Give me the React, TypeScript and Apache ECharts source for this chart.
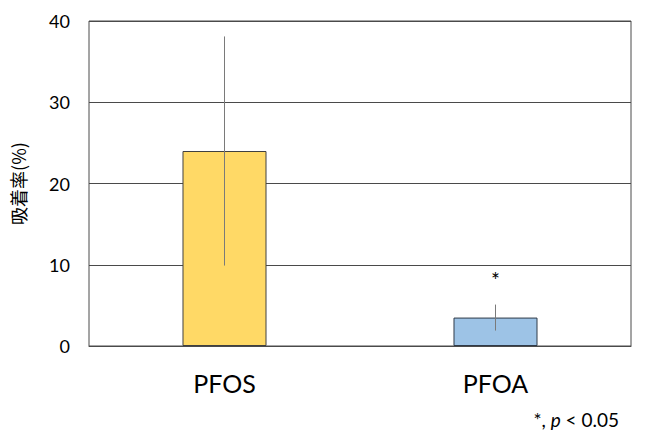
import React, { useEffect, useRef } from "react";
import * as echarts from "echarts";

const categories = ["PFOS", "PFOA"];
const means = [24.0, 3.5];
const errors = [14.1, 1.6];
const marks = ["", "*"];
const barColors = ["#FFD966", "#9DC3E6"];
const barBorders = ["#404040", "#2F3A48"];
const yTicks = [0, 10, 20, 30, 40];

export default function App() {
  const ref = useRef<HTMLDivElement>(null);
  useEffect(() => {
    if (!ref.current) return;
    const chart = echarts.init(ref.current, undefined, { renderer: "svg" });
    const errData = means.map((m, i) => [i, m - errors[i], m + errors[i]]);
    const markData = means.map((m, i) => [i, m + errors[i], marks[i]]);
    chart.setOption({
      animation: false,
      backgroundColor: "#ffffff",
      grid: {
        left: 89,
        right: 19,
        top: 21,
        bottom: 101,
        show: true,
        borderColor: "#4a4a4a",
        borderWidth: 1,
      },
      xAxis: {
        type: "category",
        data: categories,
        axisLine: { show: true, lineStyle: { color: "#4a4a4a", width: 1 } },
        axisTick: { show: false },
        axisLabel: {
          fontFamily: "Lato",
          fontSize: 25,
          color: "#000000",
          margin: 24,
        },
      },
      yAxis: {
        type: "value",
        min: yTicks[0],
        max: yTicks[yTicks.length - 1],
        interval: 10,
        name: "吸着率(%)",
        nameLocation: "middle",
        nameRotate: 90,
        nameGap: 62,
        nameTextStyle: {
          fontFamily: "Noto Sans CJK JP",
          fontSize: 18,
          color: "#000000",
        },
        axisLine: { show: false },
        axisTick: { show: false },
        axisLabel: {
          fontFamily: "Lato",
          fontSize: 18,
          color: "#000000",
          margin: 19,
        },
        splitLine: { show: true, lineStyle: { color: "#4a4a4a", width: 1 } },
      },
      series: [
        {
          type: "bar",
          barWidth: "31%",
          data: means.map((v, i) => ({
            value: v,
            itemStyle: {
              color: barColors[i],
              borderColor: barBorders[i],
              borderWidth: 1,
            },
          })),
          z: 2,
        },
        {
          type: "custom",
          data: errData,
          z: 3,
          renderItem: (params: any, api: any) => {
            const x = api.value(0);
            const lo = api.coord([x, api.value(1)]);
            const hi = api.coord([x, api.value(2)]);
            return {
              type: "line",
              shape: { x1: lo[0], y1: lo[1], x2: hi[0], y2: hi[1] },
              style: { stroke: "#7a7a7a", lineWidth: 1 },
            };
          },
        },
        {
          type: "custom",
          data: markData,
          z: 3,
          renderItem: (params: any, api: any) => {
            const i = params.dataIndex;
            const x = api.value(0);
            const hi = api.coord([x, api.value(1)]);
            return {
              type: "text",
              x: hi[0],
              y: hi[1] - 25,
              style: {
                text: marks[i],
                fontFamily: "Lato",
                fontSize: 21,
                fill: "#000000",
                align: "center",
                verticalAlign: "middle",
              },
            };
          },
        },
      ],
      graphic: [
        {
          type: "text",
          right: 31,
          top: 410,
          style: {
            text: "{n|*, }{i|p}{n| < 0.05}",
            rich: {
              n: { fontFamily: "Lato", fontSize: 19, fill: "#000000" },
              i: {
                fontFamily: "Lato",
                fontSize: 19,
                fontStyle: "italic",
                fill: "#000000",
              },
            },
          },
        },
      ],
    });
    return () => chart.dispose();
  }, []);
  return (
    <div
      ref={ref}
      style={{ position: "absolute", left: 0, top: 0, width: 650, height: 447 }}
    />
  );
}
